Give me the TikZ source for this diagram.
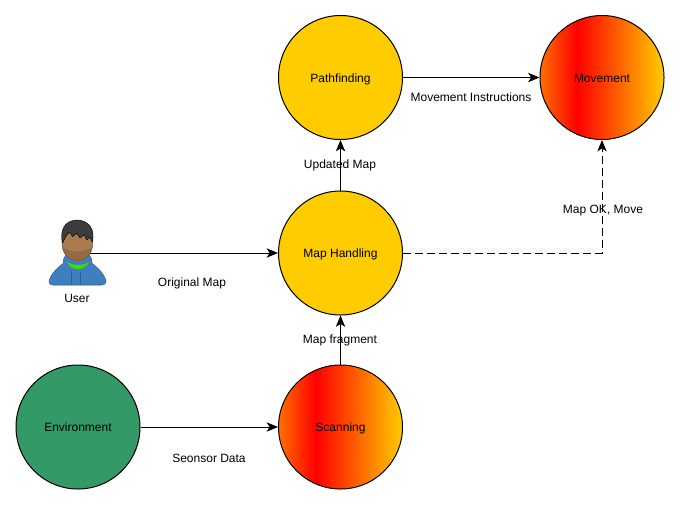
\documentclass[tikz,border=0pt]{standalone}
\usepackage{fontspec}
\setmainfont{Liberation Sans}
\usetikzlibrary{arrows.meta,positioning}
\definecolor{gold}{HTML}{FFCC00}
\definecolor{envgreen}{HTML}{339966}
\definecolor{hoodie}{HTML}{3F7FBF}
\definecolor{hoodiedk}{HTML}{2A5F96}
\definecolor{skin}{HTML}{A87B50}
\definecolor{skindk}{HTML}{7D5634}
\definecolor{hair}{HTML}{3C3C3C}
\definecolor{hotstart}{HTML}{FF7000}
\pgfdeclarehorizontalshading{hotgrad}{100bp}{color(0bp)=(hotstart);color(25bp)=(hotstart);color(40bp)=(red);color(75bp)=(gold);color(100bp)=(gold)}
\tikzset{
  x=0.75pt,y=-0.75pt,
  disc/.style={circle,draw=black,line width=0.75pt,minimum size=93pt,inner sep=0pt,font=\fontsize{9pt}{11pt}\selectfont,text=black,text height=7.4pt,text depth=0pt},
  plain/.style={disc,fill=gold},
  hot/.style={disc,shading=hotgrad},
  env/.style={disc,fill=envgreen},
  lbl/.style={font=\fontsize{9pt}{11pt}\selectfont,inner sep=0pt,text=black},
  conn/.style={draw=black,line width=0.75pt,-{Stealth[length=8.5pt,width=7pt,inset=2.2pt]}},
}
\begin{document}
\begin{tikzpicture}
\useasboundingbox (0,0) rectangle (680,504);
\node[plain] (path) at (340.5,77.5) {Pathfinding};
\node[hot] (move) at (602,77.5) {Movement};
\node[plain] (map) at (340.5,253) {Map Handling};
\node[hot] (scan) at (340.5,427) {Scanning};
\node[env] (envn) at (78,427) {Environment};
\node[inner sep=0pt,minimum width=43pt,minimum height=49pt] (user) at (77.5,253) {};
\node[lbl] (userl) at (77,298) {User};

\draw[conn] (path) -- (move);
\draw[conn] (map) -- (path);
\draw[conn] (scan) -- (map);
\draw[conn] (envn) -- (scan);
\draw[conn] (user.center) -- (map.west |- user.center);
\draw[conn,dash pattern=on 6pt off 3pt] (map.east) -| (move.south);

\node[lbl] at (471,97.5) {Movement Instructions};
\node[lbl] at (340,165.5) {Updated Map};
\node[lbl] at (192,283.5) {Original Map};
\node[lbl] at (340,340.5) {Map fragment};
\node[lbl] at (209,458.5) {Seonsor Data};
\node[lbl] at (603,210.5) {Map OK, Move};

% user icon, drawn in 3x crop coordinates
\begin{scope}[shift={(30,200)},x=0.25pt,y=-0.25pt]
  \fill[hoodie,draw=hoodiedk,line width=0.4pt] (57,245) .. controls (62,222) and (80,205) .. (100,190)
     .. controls (100,178) and (102,170) .. (108,165) -- (178,165)
     .. controls (184,172) and (186,180) .. (186,190)
     .. controls (205,205) and (224,222) .. (228,245)
     .. controls (228,252) and (222,255) .. (215,255) -- (70,255)
     .. controls (62,255) and (57,252) .. (57,245) -- cycle;
  \fill[green!70!yellow!85!black] (112,186) .. controls (130,198) and (155,198) .. (177,186) -- (172,194) .. controls (155,212) and (130,212) .. (116,194) -- cycle;
  \draw[hoodiedk,line width=0.4pt] (125,212) -- (125,255) (150,215) -- (150,255);
  \fill[skin,draw=skindk,line width=0.4pt] (96,130) .. controls (96,100) and (116,85) .. (142,85)
     .. controls (168,85) and (188,100) .. (188,130)
     .. controls (188,160) and (168,182) .. (142,182)
     .. controls (116,182) and (96,160) .. (96,130) -- cycle;
  \fill[skindk,opacity=.45] (97,142) .. controls (120,158) and (165,158) .. (187,142) .. controls (182,168) and (165,182) .. (142,182) .. controls (118,182) and (102,168) .. (97,142) -- cycle;
  \fill[hair,draw=black,line width=0.3pt] (97,128) .. controls (90,95) and (100,62) .. (140,60)
     .. controls (178,60) and (196,90) .. (187,126)
     -- (180,112) -- (170,120) -- (163,104) -- (150,114) -- (140,100) -- (128,110) -- (118,96) -- (108,108) -- (100,125) -- cycle;
\end{scope}
\end{tikzpicture}
\end{document}
